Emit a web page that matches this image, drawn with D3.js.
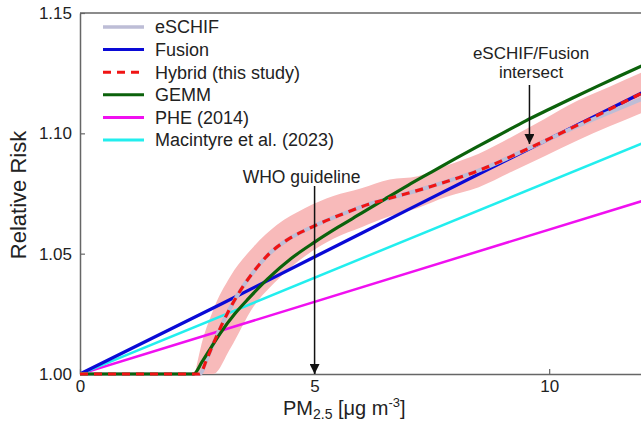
<!DOCTYPE html>
<html>
<head>
<meta charset="utf-8">
<script src="https://cdn.jsdelivr.net/npm/d3@7"></script>
<style>
  body { margin: 0; background: #fff; }
  text { font-family: "Liberation Sans", Arial, sans-serif; fill: #222; }
</style>
</head>
<body>
<div id="chart"></div>
<script>
// tick values
const xTicks = [0, 5, 10];
const yTicks = [1.00, 1.05, 1.10, 1.15];

// series (x = PM2.5, y = relative risk)
const pheX = [0, 12];
const pheY = [1.000, 1.072];

const macX = [0, 12];
const macY = [1.000, 1.096];

const fusionX = [0, 3, 6, 9, 12];
const fusionY = [1.000, 1.029, 1.0585, 1.088, 1.117];

const eschifX = [0, 2.55, 2.7, 2.84, 3.06, 3.38, 3.7, 4.05, 4.4, 4.97, 5.6, 6.15, 6.6, 7.46, 8.53, 9.59, 10.66, 12];
const eschifY = [1.000, 1.000, 1.006, 1.0125, 1.022, 1.0335, 1.0425, 1.0503, 1.0555, 1.0613, 1.0665, 1.0705, 1.073, 1.0778, 1.0848, 1.094, 1.1035, 1.1145];

const gemmX = [0, 2.42, 2.6, 2.8, 3.0, 3.3, 3.6, 4.0, 4.5, 5.0, 5.5, 6.0, 6.5, 7.0, 7.5, 8.0, 8.5, 9.0, 9.5, 10.0, 10.5, 11.0, 11.5, 12];
const gemmY = [1.000, 1.000, 1.005, 1.0112, 1.0172, 1.025, 1.0315, 1.0395, 1.048, 1.0548, 1.061, 1.0668, 1.0727, 1.0785, 1.084, 1.0895, 1.0948, 1.100, 1.1052, 1.110, 1.1147, 1.1193, 1.1238, 1.1282];

const hybridX = [0, 2.55, 2.7, 2.84, 3.06, 3.38, 3.7, 4.05, 4.4, 4.97, 5.6, 6.15, 6.6, 7.46, 8.53, 9.59, 12];
const hybridY = [1.000, 1.000, 1.006, 1.0125, 1.022, 1.0335, 1.0425, 1.0503, 1.0555, 1.0613, 1.0665, 1.0705, 1.073, 1.0778, 1.0848, 1.094, 1.117];

// uncertainty band of the hybrid curve
const bandX  = [2.45, 2.56, 2.84, 3.2, 3.7, 4.2, 4.8, 5.4, 6.0, 6.6, 7.2, 7.8, 8.5, 9.2, 9.9, 10.6, 11.3, 12];
const bandLo = [1.000, 1.000, 1.000, 1.0105, 1.028, 1.039, 1.049, 1.0562, 1.061, 1.0655, 1.069, 1.0735, 1.0776, 1.084, 1.0905, 1.097, 1.103, 1.1087];
const bandHi = [1.000, 1.010, 1.0266, 1.0404, 1.0529, 1.062, 1.069, 1.074, 1.0772, 1.0808, 1.0822, 1.0865, 1.0915, 1.0985, 1.106, 1.1135, 1.1195, 1.1255];

const legendNames = ["eSCHIF", "Fusion", "Hybrid (this study)", "GEMM", "PHE (2014)", "Macintyre et al. (2023)"];
const legendColors = ["#bdbdd6", "#0a0ad6", "#f01414", "#0b620b", "#f010f0", "#22eeee"];

const width = 641, height = 425;
const margin = {top: 13, left: 80, bottom: 51};

const svg = d3.select("#chart").append("svg")
  .attr("width", width)
  .attr("height", height);

const x = d3.scaleLinear().domain([0, 12]).range([margin.left, 643]);
const y = d3.scaleLinear().domain([1.00, 1.15]).range([height - margin.bottom, margin.top]);

svg.append("defs").append("clipPath").attr("id", "plotclip")
  .append("rect")
  .attr("x", margin.left).attr("y", margin.top)
  .attr("width", width - margin.left).attr("height", height - margin.bottom - margin.top + 6);

svg.select("defs").append("marker")
  .attr("id", "arrow")
  .attr("viewBox", "0 0 10 10")
  .attr("refX", 10).attr("refY", 5)
  .attr("markerWidth", 10).attr("markerHeight", 10)
  .attr("markerUnits", "userSpaceOnUse")
  .attr("orient", "auto")
  .append("path").attr("d", "M0,0 L10,5 L0,10 Z").attr("fill", "#111");

// axes
const axisColor = "#666";
const yAxis = svg.append("g")
  .attr("transform", `translate(${margin.left},0)`)
  .call(d3.axisLeft(y).tickValues(yTicks).tickFormat(d3.format(".2f"))
    .tickSizeInner(-5).tickSizeOuter(0).tickPadding(8));

const xAxis = svg.append("g")
  .attr("transform", `translate(0,${y(1.00)})`)
  .call(d3.axisBottom(x).tickValues(xTicks).tickFormat(d3.format("d"))
    .tickSizeInner(-5).tickSizeOuter(0).tickPadding(6));

[yAxis, xAxis].forEach(g => {
  g.select(".domain").attr("stroke", axisColor).attr("stroke-width", 1.5);
  g.selectAll(".tick line").attr("stroke", axisColor).attr("stroke-width", 1.2);
  g.selectAll(".tick text").attr("font-size", "17px").attr("fill", "#222")
    .attr("font-family", "'Liberation Sans', Arial, sans-serif");
});

// top frame line
svg.append("line")
  .attr("x1", margin.left).attr("x2", width)
  .attr("y1", y(1.15)).attr("y2", y(1.15))
  .attr("stroke", axisColor).attr("stroke-width", 1.5);

const plot = svg.append("g").attr("clip-path", "url(#plotclip)");

// band
const band = d3.area()
  .x((d, i) => x(bandX[i]))
  .y0((d, i) => y(bandLo[i]))
  .y1((d, i) => y(bandHi[i]))
  .curve(d3.curveMonotoneX);

plot.append("path")
  .datum(bandX)
  .attr("d", band)
  .attr("fill", "#f8baba");

const line = d3.line()
  .x(d => x(d[0]))
  .y(d => y(d[1]))
  .curve(d3.curveMonotoneX);

function series(xs, ys) { return xs.map((v, i) => [v, ys[i]]); }

function drawLine(xs, ys, color, w, dash) {
  plot.append("path")
    .datum(series(xs, ys))
    .attr("d", line)
    .attr("fill", "none")
    .attr("stroke", color)
    .attr("stroke-width", w)
    .attr("stroke-dasharray", dash || null);
}

drawLine(pheX, pheY, legendColors[4], 2.5);
drawLine(macX, macY, legendColors[5], 2.5);
drawLine(fusionX, fusionY, legendColors[1], 3.2);
drawLine(eschifX, eschifY, legendColors[0], 4);
drawLine(gemmX, gemmY, legendColors[3], 3.2);
drawLine(hybridX, hybridY, legendColors[2], 3.2, "8,6");

// legend
const legend = svg.append("g");
legendNames.forEach((name, i) => {
  const ly = 27 + i * 22.6;
  legend.append("line")
    .attr("x1", 103).attr("x2", 144)
    .attr("y1", ly).attr("y2", ly)
    .attr("stroke", legendColors[i])
    .attr("stroke-width", i === 0 ? 3.5 : 3)
    .attr("stroke-dasharray", i === 2 ? "8,6" : null);
  legend.append("text")
    .attr("x", 155).attr("y", ly)
    .attr("dy", "0.35em")
    .attr("font-size", "18px")
    .text(name);
});

// annotations
svg.append("line")
  .attr("x1", x(5)).attr("x2", x(5))
  .attr("y1", 186).attr("y2", y(1.00))
  .attr("stroke", "#111").attr("stroke-width", 1.5)
  .attr("marker-end", "url(#arrow)");

svg.append("text")
  .attr("x", x(5) - 13).attr("y", 183)
  .attr("text-anchor", "middle")
  .attr("font-size", "17.5px")
  .text("WHO guideline");

svg.append("line")
  .attr("x1", x(9.58)).attr("x2", x(9.58))
  .attr("y1", 85).attr("y2", 144)
  .attr("stroke", "#111").attr("stroke-width", 1.5)
  .attr("marker-end", "url(#arrow)");

svg.append("text")
  .attr("x", 531).attr("y", 59)
  .attr("text-anchor", "middle")
  .attr("font-size", "17px")
  .text("eSCHIF/Fusion");

svg.append("text")
  .attr("x", 531).attr("y", 78)
  .attr("text-anchor", "middle")
  .attr("font-size", "17px")
  .text("intersect");

// axis titles
svg.append("text")
  .attr("transform", "rotate(-90)")
  .attr("x", -195).attr("y", 26)
  .attr("text-anchor", "middle")
  .attr("font-size", "22px")
  .text("Relative Risk");

const xt = svg.append("text")
  .attr("x", 283).attr("y", 415)
  .attr("font-size", "20px");
xt.append("tspan").text("PM");
xt.append("tspan").attr("font-size", "14px").attr("dy", 4).text("2.5");
xt.append("tspan").attr("dy", -4).text(" [\u03bcg m");
xt.append("tspan").attr("font-size", "13px").attr("dy", -8).text("-3");
xt.append("tspan").attr("dy", 8).text("]");
</script>
</body>
</html>
